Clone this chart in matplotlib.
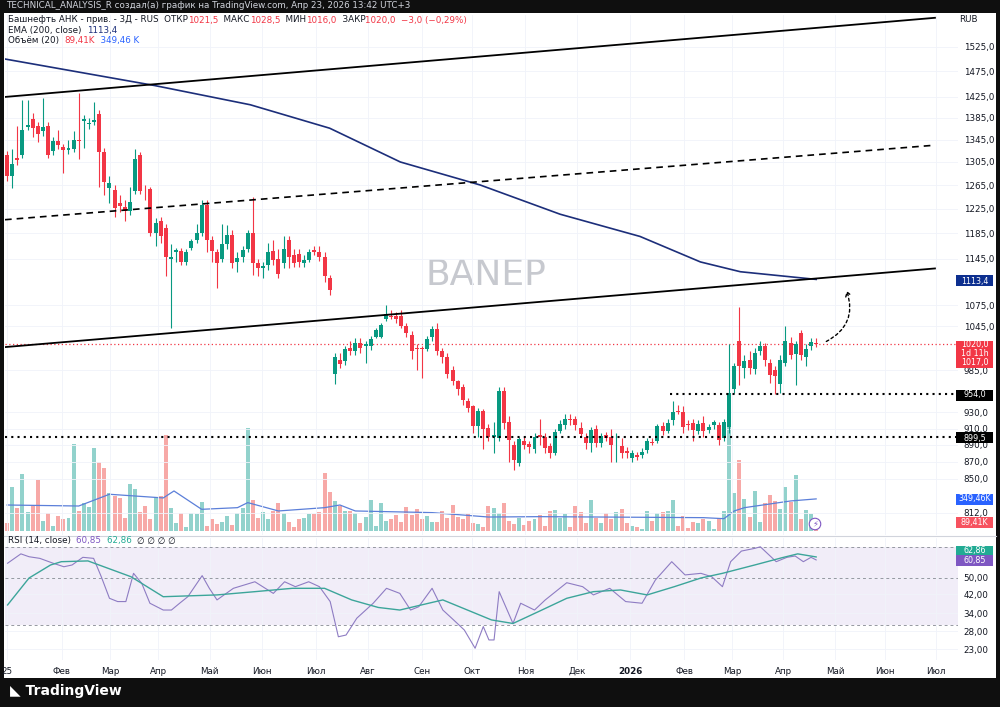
import numpy as np
import matplotlib
matplotlib.use('Agg')
import matplotlib.pyplot as plt
from matplotlib.patches import Rectangle, FancyArrowPatch
from matplotlib.ticker import NullLocator, NullFormatter

# 3-day candles, Jan 2025 - Apr 2026
opens = [1318,1280,1312,1318,1368,1383,1370,1360,1370,1325,1343,1332,1327,1328,1345,1380,1374,1378,1392,1322,
         1260,1257,1235,1228,1222,1255,1318,1259,1258,1185,1205,1193,1145,1155,1157,1140,1162,1175,1185,1232,
         1175,1155,1145,1168,1182,1140,1147,1160,1185,1138,1130,1135,1157,1145,1138,1175,1150,1152,1138,1143,
         1158,1155,1148,1116,980,999,997,1015,1010,1022,1018,1018,1030,1030,1055,1060,1060,1060,1045,1033,
         1015,1015,1013,1030,1041,1010,1003,985,970,962,945,938,913,932,911,900,898,958,918,890,
         869,895,891,885,902,900,889,881,907,914,922,922,911,900,892,910,893,902,900,888,
         889,883,874,878,878,884,894,895,913,907,920,932,931,916,917,907,917,908,914,914,
         898,912,960,1025,988,998,986,1010,1018,995,985,966,995,1022,1007,1035,1002,1018,1021.5]
closes = [1280,1302,1308,1362,1372,1366,1355,1368,1318,1342,1335,1326,1330,1345,1342,1384,1376,1382,1322,1270,
          1268,1226,1229,1221,1237,1310,1255,1258,1185,1202,1180,1147,1148,1158,1140,1155,1172,1185,1232,1175,
          1157,1138,1168,1182,1138,1146,1158,1185,1138,1130,1133,1155,1143,1122,1160,1147,1138,1140,1143,1155,
          1155,1148,1118,1098,1003,993,1013,1010,1022,1015,1020,1027,1040,1047,1062,1058,1055,1045,1035,1010,
          1013,1013,1027,1041,1010,1003,980,970,960,946,936,913,932,910,900,902,958,917,896,872,
          897,890,888,900,900,886,881,906,916,922,921,914,903,893,908,893,901,899,890,888,
          881,880,880,876,882,895,893,913,907,917,930,931,912,914,908,916,907,912,918,896,
          918,955,990,990,997,988,1008,1018,998,978,977,999,1025,1005,1020,1005,1013,1023,1020.0]
highs = [1325,1328,1370,1420,1420,1395,1378,1423,1378,1350,1362,1338,1345,1360,1433,1390,1385,1415,1400,1330,
         1280,1265,1248,1240,1262,1328,1322,1265,1262,1210,1212,1200,1168,1162,1162,1160,1176,1200,1240,1240,
         1180,1160,1200,1198,1190,1155,1165,1190,1245,1145,1140,1170,1175,1160,1180,1180,1160,1160,1150,1160,
         1165,1165,1155,1120,1008,1008,1018,1025,1028,1028,1024,1032,1043,1050,1075,1068,1066,1068,1050,1038,
         1020,1018,1032,1045,1050,1015,1008,990,972,966,948,940,936,935,916,918,962,962,925,895,
         900,900,895,905,922,905,892,910,920,928,928,925,918,905,912,915,905,906,910,905,
         898,888,884,882,886,898,898,916,918,922,945,940,938,920,922,920,925,916,920,918,
         922,1020,995,1072,1005,1010,1015,1025,1022,1000,990,1005,1045,1030,1025,1040,1020,1028,1028.5]
lows = [1272,1260,1300,1312,1362,1350,1340,1352,1312,1318,1328,1286,1320,1322,1310,1330,1365,1372,1262,1248,
        1235,1212,1220,1205,1215,1250,1250,1240,1180,1165,1170,1118,1043,1140,1135,1135,1158,1170,1180,1155,
        1140,1100,1140,1160,1130,1125,1140,1155,1120,1118,1115,1128,1135,1115,1130,1130,1132,1132,1132,1140,
        1150,1142,1110,1090,967,988,992,1005,1005,1008,995,1012,1028,1028,1052,1055,1050,1042,1030,1000,
        985,975,1010,1025,1005,995,975,965,952,940,930,905,900,885,895,880,895,910,870,860,
        865,885,880,880,890,880,875,878,905,910,915,908,900,885,882,888,888,895,870,870,
        875,875,870,872,874,880,890,892,902,904,915,928,905,908,895,903,900,904,910,890,
        895,905,955,965,975,980,980,1005,990,968,953,955,990,1000,965,998,990,1012,1016]
volumes = [91,483,254,617,207,272,555,109,192,54,163,134,145,944,218,309,265,908,751,690,
           417,381,363,145,508,461,207,272,134,370,381,1042,254,91,192,47,192,182,316,54,
           134,73,98,163,62,192,254,1120,334,145,207,127,218,301,200,98,47,134,145,189,
           182,207,628,425,327,272,218,218,200,91,156,338,54,301,109,134,171,98,265,171,
           236,127,163,98,98,218,145,280,156,127,182,91,73,47,272,254,200,309,109,73,
           145,62,109,127,171,54,218,229,145,182,47,272,207,91,338,145,91,192,127,207,
           243,84,54,44,25,218,109,200,207,218,338,54,163,36,98,91,127,109,18,145,
           218,1150,417,773,352,156,436,98,300,388,327,236,483,316,606,134,229,182,89.41]

ema_idx = [-0.4,28.9,47.5,63,76.8,92.4,108,123.6,135.4,143.2,158]
ema_val = [1500,1447,1410,1366,1305,1265,1216,1180,1140,1125,1113.4]

vma_idx = [0,14,20,30.5,32.6,38,45,47,53,62,65,68,83,94,104,136,140,142,144,153,158]
vma_val = [283,272,400,360,436,236,254,309,218,254,283,218,200,152,156,145,134,218,254,327,349.46]

rsi_idx = [0.1,2.7,4.3,6.4,9.0,11.1,12.7,14.8,16.9,18.4,20.0,21.6,23.2,24.7,26.3,27.9,30.5,32.1,33.7,35.3,
           38.1,39.5,41.0,44.2,48.4,52.0,54.2,56.3,58.9,61.0,63.1,64.7,66.2,68.3,71.5,74.1,76.7,78.8,80.4,83.0,
           85.1,87.2,89.3,91.4,93.0,94.1,95.1,96.1,98.8,100.3,103,105.1,109.3,112.4,114.5,117.7,120.8,124.0,126.6,129.8,
           132.4,135.5,137.6,139.7,141.3,143.4,146.0,147.1,150.2,152.3,153.9,155.5,157.0,158]
rsi_val = [58.7,65.0,63.0,61.9,58.7,56.5,57.6,62.6,61.9,50.7,40.1,38.7,38.7,52.6,47.2,38.0,35.3,35.3,38.0,40.8,
           51.3,44.7,39.4,44.7,48.0,42.3,48.0,45.5,48.0,45.5,38.7,26.4,26.9,32.3,38.0,44.7,42.3,35.3,36.6,44.7,
           35.3,31.7,28.4,23.3,29.5,25.5,25.5,43.1,30.5,38.0,35.3,39.4,47.5,45.5,41.6,44.7,38.7,38.0,48.9,59.7,
           51.7,52.6,50.7,45.5,59.7,67.0,69.0,70.2,59.7,62.6,63.5,59.7,62.6,60.85]
rsima_idx = [0.1,4.3,8.5,10.6,15.8,24.2,30.5,41,48.4,55.7,62,67.3,72.5,76.7,80.9,85.1,90.4,94.6,98.8,104,
             109.3,114.5,119.8,125,130.3,135.5,139.7,146,151.3,154.4,158]
rsima_val = [37.3,50.0,57.6,59.7,60.2,50.7,40.8,41.6,43.1,44.7,44.7,39.4,36.3,35.3,37.3,39.4,34.9,31.7,30.5,34.9,
             40.1,43.1,43.9,41.6,45.5,50.0,52.6,57.6,62.3,65.0,62.86]

month_pos = [0,10.7,20.1,29.5,39.6,49.8,60.4,70.5,81.1,90.8,101.2,111.3,121.7,132.2,141.6,151.6,161.7,171.5,181.4]
month_lbl = ['25','Фев','Мар','Апр','Май','Июн','Июл','Авг','Сен','Окт','Ноя','Дек','2026','Фев','Мар','Апр','Май','Июн','Июл']
price_ticks = [1525,1475,1425,1385,1345,1305,1265,1225,1185,1145,1075,1045,985,930,910,890,870,850,812]
rsi_ticks = [50,42,34,28,23]

GREEN, RED = '#089981', '#f23645'
VG, VR = '#92d2cc', '#f7a9a7'
INK = '#131722'
W, H = 1000, 707
FS = 6.3
XMAX = 185.7

def box(x, y, w, h):
    return [x / W, 1 - (y + h) / H, w / W, h / H]

fig = plt.figure(figsize=(10, 7.07), dpi=100, facecolor='#0f0f0f')
fig.patches.append(Rectangle((4 / W, 1 - 678 / H), 992 / W, 665 / H, transform=fig.transFigure,
                             facecolor='white', edgecolor='none', zorder=-5))
fig.text(6 / W, 1 - 6 / H, 'TECHNICAL_ANALYSIS_R создал(а) график на TradingView.com, Апр 23, 2026 13:42 UTC+3',
         color='#d1d4dc', fontsize=6.3, va='center')

ax = fig.add_axes(box(5, 15, 953, 520))
axv = ax.twinx()
n = len(closes)
x = np.arange(n)
up = np.array(closes) >= np.array(opens)
cols = np.where(up, GREEN, RED)

axv.set_ylim(-44, 5624)
axv.bar(x[:len(volumes)], volumes, width=0.78, color=np.where(up, VG, VR)[:len(volumes)], zorder=1)
axv.plot(vma_idx, vma_val, color='#5b7fd9', lw=0.9)
axv.set_yticks([])
for s in axv.spines.values():
    s.set_visible(False)
ax.set_zorder(axv.get_zorder() + 1)
ax.patch.set_visible(False)

ax.set_yscale('log')
ax.set_xlim(-0.4, XMAX)
ax.set_ylim(788, 1592)
ax.vlines(x, lows, highs, colors=cols, lw=0.8, zorder=3)
ax.bar(x, np.array(closes) - np.array(opens), bottom=opens, width=0.78, color=cols, zorder=4)
ax.plot(ema_idx, ema_val, color='#1c2e7a', lw=1.2, zorder=5)

# drawings
ax.plot([-0.4, 181.2], [1425, 1586], color='black', lw=1.3, zorder=6)
ax.plot([-0.4, 181.2], [1207, 1335], color='black', lw=1.2, ls=(0, (4, 3)), zorder=6)
ax.plot([-0.4, 181.2], [1016, 1130], color='black', lw=1.3, zorder=6)
ax.plot([129.5, XMAX], [954, 954], color='black', lw=1.5, ls=(0, (1, 2)), zorder=6)
ax.plot([-0.4, XMAX], [899.5, 899.5], color='black', lw=1.5, ls=(0, (1, 2)), zorder=6)
ax.axhline(1020, color=RED, lw=0.9, ls=(0, (1, 2)), zorder=2)
ax.add_patch(FancyArrowPatch((159.5, 1022), (163.8, 1100), connectionstyle='arc3,rad=0.45',
                             arrowstyle='->,head_length=3,head_width=2', ls=(0, (2, 2)), color='black',
                             lw=1, zorder=7))
ax.text(0.505, 0.5, 'BANEP', transform=ax.transAxes, fontsize=26, color='#c7c9cf',
        ha='center', va='center', zorder=1)

ax.yaxis.set_minor_locator(NullLocator())
ax.yaxis.set_minor_formatter(NullFormatter())
ax.set_yticks(price_ticks)
ax.set_yticklabels([f'{p:.1f}'.replace('.', ',') for p in price_ticks], fontsize=FS, color=INK)
ax.tick_params(axis='y', length=0, pad=4, left=False, right=False, labelleft=False, labelright=True)
ax.set_xticks(month_pos)
ax.tick_params(axis='x', length=0, labelbottom=False)
ax.grid(color='#f0f3fa', lw=0.6)
for s in ax.spines.values():
    s.set_visible(False)

# header, pieces chained left to right
renderer = fig.canvas.get_renderer()

def chain(ypix, parts, x0=8, gap=0):
    xp = x0
    for txt, c in parts:
        t = fig.text(xp / W, 1 - ypix / H, txt, fontsize=FS, color=c, va='center')
        xp += t.get_window_extent(renderer).width + gap

chain(20, [('Башнефть АНК - прив. - 3Д - RUS  ОТКР', INK), ('1021,5', RED), ('  МАКС', INK), ('1028,5', RED),
           ('  МИН', INK), ('1016,0', RED), ('  ЗАКР', INK), ('1020,0  −3,0 (−0,29%)', RED)])
chain(31, [('EMA (200, close)  ', INK), ('1113,4', '#1c2e7a')])
chain(41, [('Объём (20)  ', INK), ('89,41K', RED), ('  349,46 K', '#2962ff')])
fig.text(968 / W, 1 - 20 / H, 'RUB', fontsize=FS, color=INK, va='center', ha='center')

TX, TW, TFS = 956, 37, 5.8

def tag(ypix, txt, fc, tc='white', h=11):
    fig.patches.append(Rectangle((TX / W, 1 - (ypix + h / 2) / H), TW / W, h / H, transform=fig.transFigure,
                                 facecolor=fc, edgecolor='none', zorder=5))
    fig.text((TX + TW / 2) / W, 1 - ypix / H, txt, fontsize=TFS, color=tc, ha='center', va='center', zorder=6)

tag(281, '1113,4', '#0d2f8f')
fig.patches.append(Rectangle((TX / W, 1 - 368 / H), TW / W, 27 / H, transform=fig.transFigure,
                             facecolor=RED, edgecolor='none', zorder=5))
for yy, t in [(345, '1020,0'), (354, '1d 11h'), (363, '1017,0')]:
    fig.text((TX + TW / 2) / W, 1 - yy / H, t, fontsize=TFS, color='white', ha='center', va='center', zorder=6)
tag(395, '954,0', '#000000')
tag(438, '899,5', '#000000')
tag(499, '349,46K', '#2962ff')
tag(522, '89,41K', '#f7525f')
tag(551, '62,86', '#22ab94')
tag(560, '60,85', '#7e57c2')

fig.text(815 / W, 1 - 524 / H, '⚡', fontsize=6, color='#7e57c2', ha='center', va='center',
         bbox=dict(boxstyle='circle,pad=0.15', fc='white', ec='#7e57c2', lw=0.8))

# pane separator
fig.add_artist(plt.Line2D([4 / W, 996 / W], [1 - 536 / H] * 2, color='#d1d4dc', lw=0.8))

# RSI pane
axr = fig.add_axes(box(5, 538, 953, 122))
axr.set_yscale('log')
axr.set_xlim(-0.4, XMAX)
axr.set_ylim(50 * np.exp(-82 / 92), 50 * np.exp(40 / 92))
axr.fill_between([-0.4, XMAX], 30, 70, color='#7e57c2', alpha=0.1, lw=0)
for lv in [70, 50, 30]:
    axr.axhline(lv, color='#9598a1', lw=0.7, ls=(0, (3, 3)))
axr.plot(rsi_idx, rsi_val, color='#8e7cc3', lw=0.8)
axr.plot(rsima_idx, rsima_val, color='#3ca59a', lw=1.0)
axr.yaxis.set_minor_locator(NullLocator())
axr.yaxis.set_minor_formatter(NullFormatter())
axr.set_yticks(rsi_ticks)
axr.set_yticklabels([f'{v:.2f}'.replace('.', ',') for v in rsi_ticks], fontsize=FS, color=INK)
axr.tick_params(axis='y', length=0, pad=4, left=False, right=False, labelleft=False, labelright=True)
axr.set_xticks(month_pos)
axr.set_xticklabels(month_lbl, fontsize=FS, color=INK)
for lbl in axr.get_xticklabels():
    if lbl.get_text() == '2026':
        lbl.set_fontweight('bold')
axr.tick_params(axis='x', length=0, pad=5)
axr.grid(color='#f0f3fa', lw=0.6)
for s in axr.spines.values():
    s.set_visible(False)
chain(541, [('RSI (14, close)  ', INK), ('60,85  ', '#7e57c2'), ('62,86  ', '#22ab94'), ('∅ ∅ ∅ ∅', INK)])

# footer
fig.text(10 / W, 1 - 691 / H, '◣ TradingView', fontsize=10, color='white', fontweight='bold', va='center')

fig.savefig('out.png', dpi=100, facecolor=fig.get_facecolor())
